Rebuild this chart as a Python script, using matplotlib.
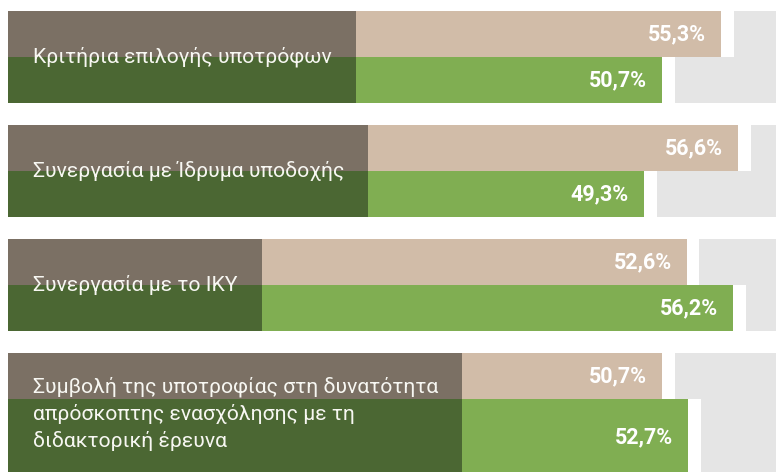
import matplotlib
matplotlib.use('Agg')
import matplotlib.pyplot as plt
import matplotlib.transforms as mtransforms

categories = [
    "Κριτήρια επιλογής υποτρόφων",
    "Συνεργασία με Ίδρυμα υποδοχής",
    "Συνεργασία με το ΙΚΥ",
    "Συμβολή της υποτροφίας στη δυνατότητα\nαπρόσκοπτης ενασχόλησης με τη\nδιδακτορική έρευνα",
]
series_top = [55.3, 56.6, 52.6, 50.7]
series_bottom = [50.7, 49.3, 56.2, 52.7]

beige = '#d1bca8'
green = '#80ae52'
gray = '#e5e5e5'
dark_top = '#7b7064'
dark_bottom = '#4b6733'

px_per_pct = 12.9

fig = plt.figure(figsize=(7.76, 4.72), dpi=100)
ax = fig.add_axes([0, 0, 1, 1])
ax.set_xlim(-8 / px_per_pct, 768 / px_per_pct)
ax.set_ylim(472, 0)
ax.axis('off')

bar_h = 46
step = 114
top0 = 11
line_extra = 15
gap = 1.0

def fmt(v):
    return f"{v:.1f}%".replace('.', ',')

def shifted(dx):
    return mtransforms.offset_copy(ax.transData, fig=fig, x=dx, y=0, units='dots')

renderer = fig.canvas.get_renderer()

for i, (cat, a, b) in enumerate(zip(categories, series_top, series_bottom)):
    top = top0 + i * step
    nlines = cat.count('\n') + 1
    h_b = bar_h + (nlines - 1) * line_extra
    mid = top + bar_h
    for y0, h, v, col in [(top, bar_h, a, beige), (mid, h_b, b, green)]:
        ax.barh(y0, v, height=h, align='edge', color=col, zorder=1)
        ax.barh(y0, 100 - v - gap, left=v + gap, height=h, align='edge', color=gray, zorder=1)
        ax.text(v, y0 + h / 2, fmt(v), transform=shifted(-15), ha='right', va='center',
                fontsize=15.5, fontweight='bold', family='Roboto', color='white', zorder=5)

    t = ax.text(0, (top + mid + h_b) / 2, cat, transform=shifted(25), ha='left', va='center',
                fontsize=15.2, family='Roboto', color='#f7f7f2', linespacing=1.45, zorder=5)
    bb = t.get_window_extent(renderer)
    right = ax.transData.inverted().transform((bb.x1 + 24, 0))[0]
    ax.barh(top, right, height=bar_h, align='edge', color=dark_top, zorder=3)
    ax.barh(mid, right, height=h_b, align='edge', color=dark_bottom, zorder=3)

plt.savefig('out.png', dpi=100)
